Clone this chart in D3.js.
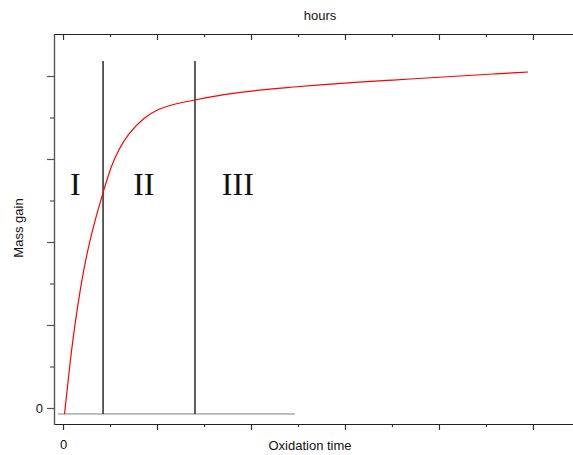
<!DOCTYPE html>
<html>
<head>
<meta charset="utf-8">
<script src="https://cdn.jsdelivr.net/npm/d3@7/dist/d3.min.js"></script>
<style>
  html, body { margin: 0; padding: 0; background: #fff; }
  svg { display: block; }
</style>
</head>
<body>
<svg id="chart" width="573" height="455"></svg>
<script>
// Oxidation kinetics: mass gain versus oxidation time (hours)
const timeValues = [0.16, 0.745, 1.17, 2.02, 2.59, 3.12, 4.26, 5.21, 5.9, 6.91, 8.62, 10.11,
                    11.91, 14.04, 17.02, 20.64, 24.15, 27.66, 31.6, 35.11, 38.72, 42.23, 45.74, 49.47];
const massGain   = [-0.72, 5.42, 9.4, 15.66, 18.8, 21.45, 26.02, 29.4, 31.08, 33.01, 35.0, 36.02,
                    36.65, 37.11, 37.77, 38.28, 38.65, 38.96, 39.27, 39.51, 39.76, 40.0, 40.24, 40.48];

// Stage boundaries and stage labels
const stageBounds = [4.26, 14.04];
const stageLabels = ["I", "II", "III"];
const stageLabelX = [1.3, 8.6, 18.6];
const stageTop = 41.8;
const baseLevel = -0.72;
const baseExtent = [-0.53, 24.68];

// Axis ticks
const xMajorTicks = [0, 10, 20, 30, 40, 50];
const xMinorTicks = [5, 15, 25, 35, 45];
const yMajorTicks = [0, 10, 20, 30, 40];
const yMinorTicks = [5, 15, 25, 35];

const sans = "'Liberation Sans', Arial, sans-serif";
const serif = "'Liberation Serif', 'Times New Roman', serif";

const svg = d3.select("#chart");
const plotLeft = 54, plotRight = 573, plotTop = 34, plotBottom = 424;

const x = d3.scaleLinear().domain([-0.96, 54.26]).range([plotLeft, plotRight]);
const y = d3.scaleLinear().domain([-1.93, 45.06]).range([plotBottom, plotTop]);

const zeroOnly = d => d === 0 ? "0" : "";

// Bottom axis
const gB = svg.append("g").attr("transform", `translate(0,${plotBottom})`);
gB.call(d3.axisBottom(x).tickValues(xMajorTicks).tickSize(6).tickPadding(10).tickSizeOuter(0).tickFormat(zeroOnly));
gB.append("g").call(d3.axisBottom(x).tickValues(xMinorTicks).tickSize(3).tickSizeOuter(0).tickFormat(""));

// Top axis (ticks pointing into the plot)
const gT = svg.append("g").attr("transform", `translate(0,${plotTop})`);
gT.call(d3.axisBottom(x).tickValues(xMajorTicks).tickSize(6).tickSizeOuter(0).tickFormat(""));
gT.append("g").call(d3.axisBottom(x).tickValues(xMinorTicks).tickSize(3).tickSizeOuter(0).tickFormat(""));

// Left axis
const gL = svg.append("g").attr("transform", `translate(${plotLeft},0)`);
gL.call(d3.axisLeft(y).tickValues(yMajorTicks).tickSize(7).tickPadding(4).tickSizeOuter(0).tickFormat(zeroOnly));
gL.append("g").call(d3.axisLeft(y).tickValues(yMinorTicks).tickSize(4).tickSizeOuter(0).tickFormat(""));

svg.selectAll(".domain").attr("stroke", "#222").attr("stroke-width", 1.2);
gL.selectAll(".domain, line").attr("stroke", "#555");
svg.selectAll(".tick line").attr("stroke-width", 1.2);
svg.selectAll(".tick text").style("font-size", "13px").style("font-family", sans).attr("fill", "#111");
gT.selectAll(".tick line").attr("stroke", "#333");
gB.selectAll(".tick line").attr("stroke", "#333");

// Gray baseline
svg.append("line")
  .attr("x1", x(baseExtent[0])).attr("x2", x(baseExtent[1]))
  .attr("y1", y(baseLevel)).attr("y2", y(baseLevel))
  .attr("stroke", "#808080").attr("stroke-width", 1);

// Stage boundaries
svg.selectAll(".stage-line").data(stageBounds).enter().append("line")
  .attr("class", "stage-line")
  .attr("x1", d => x(d)).attr("x2", d => x(d))
  .attr("y1", y(baseLevel)).attr("y2", y(stageTop))
  .attr("stroke", "#2a2a2a").attr("stroke-width", 1.5);

// Mass gain curve
const pts = timeValues.map((t, i) => [t, massGain[i]]);
svg.append("path")
  .datum(pts)
  .attr("fill", "none")
  .attr("stroke", "#ff0000")
  .attr("stroke-width", 1.2)
  .attr("d", d3.line().x(d => x(d[0])).y(d => y(d[1])).curve(d3.curveBasis));

// Stage labels
svg.selectAll(".stage-label").data(stageLabels).enter().append("text")
  .attr("class", "stage-label")
  .attr("x", (d, i) => x(stageLabelX[i]))
  .attr("y", 195)
  .attr("text-anchor", "middle")
  .style("font-family", serif)
  .style("font-size", "32px")
  .attr("fill", "#111")
  .text(d => d);

// Axis titles
const title = (t) => svg.append("text").attr("text-anchor", "middle")
  .style("font-family", sans).style("font-size", "13px").attr("fill", "#111").text(t);
title("hours").attr("x", 320).attr("y", 20);
title("Oxidation time").attr("x", 310).attr("y", 449.5);
title("Mass gain").attr("transform", "translate(23,228) rotate(-90)");
</script>
</body>
</html>
